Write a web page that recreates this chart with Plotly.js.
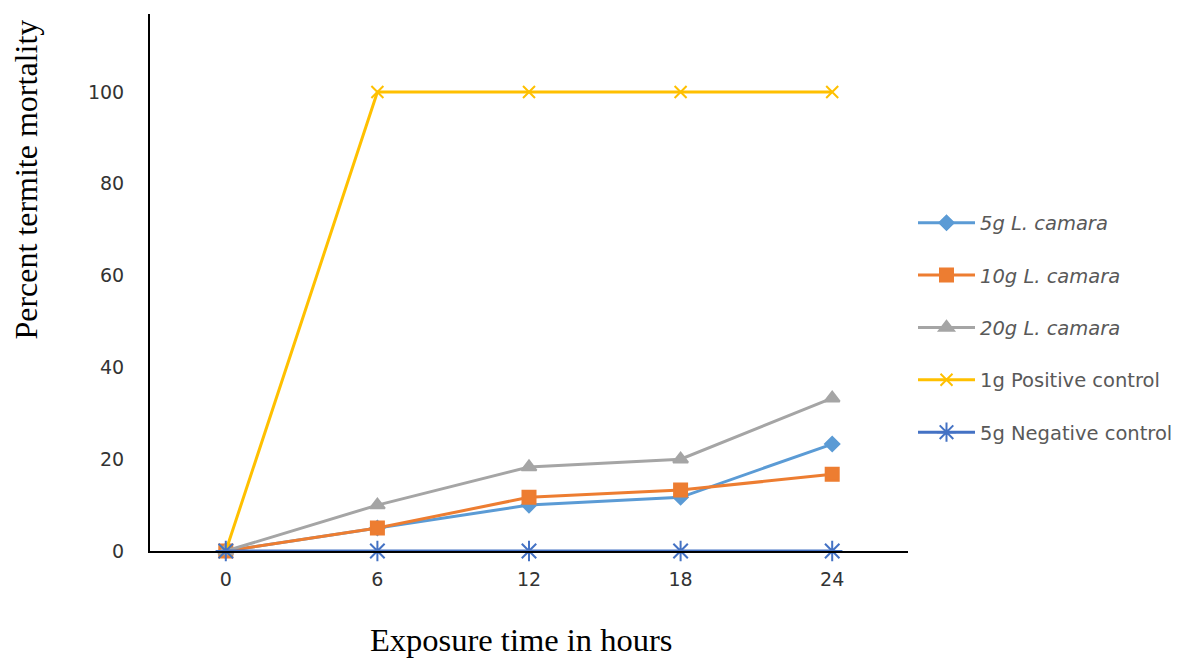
<!DOCTYPE html>
<html><head><meta charset="utf-8">
<script src="https://cdn.plot.ly/plotly-3.0.1.min.js"></script>
<style>html,body{margin:0;padding:0;background:#fff}</style>
</head><body>
<div id="chart" style="width:1180px;height:659px"></div>
<script>
const hours = ["0", "6", "12", "18", "24"];
const names = ["<i>5g L. camara</i>", "<i>10g L. camara</i>", "<i>20g L. camara</i>", "1g Positive control", "5g Negative control"];
const lc5 = [0, 5, 10, 11.7, 23.3];
const lc10 = [0, 5, 11.7, 13.3, 16.7];
const lc20 = [0, 10, 18.3, 20, 33.3];
const positive = [0, 100, 100, 100, 100];
const negative = [0, 0, 0, 0, 0];
const yTicks = [0, 20, 40, 60, 80, 100];

const series = [lc5, lc10, lc20, positive, negative];
const colors = ["#5B9BD5", "#ED7D31", "#A5A5A5", "#FFC000", "#4472C4"];
const symbols = ["diamond", "square", "triangle-up", "x-thin-open", "asterisk-open"];
const sizes = [11, 13, 13, 12, 17];

const order = [0, 1, 2, 3, 4];
const traces = order.map(i => ({
  x: hours, y: series[i], name: names[i], type: "scatter", mode: "lines+markers",
  legendrank: i + 1, legendgroup: "g" + i, cliponaxis: false,
  line: {color: colors[i], width: 3},
  marker: {symbol: symbols[i], size: sizes[i], color: colors[i], line: {color: colors[i], width: 2}}
}));

const layout = {
  width: 1180, height: 659,
  margin: {l: 150, r: 272, t: 14, b: 108, autoexpand: false},
  paper_bgcolor: "#fff", plot_bgcolor: "#fff",
  showlegend: true,
  font: {family: "DejaVu Sans, sans-serif", color: "#404040", size: 18},
  xaxis: {
    type: "category", range: [-0.5, 4.5],
    showline: true, linecolor: "#000", linewidth: 2,
    showgrid: false, zeroline: false,
    ticks: "outside", ticklen: 10, tickcolor: "rgba(0,0,0,0)",
    tickfont: {size: 19, color: "#333"}
  },
  yaxis: {
    range: [0, 117], tickvals: yTicks,
    showline: true, linecolor: "#000", linewidth: 2,
    showgrid: false, zeroline: false,
    ticks: "outside", ticklen: 20, tickcolor: "rgba(0,0,0,0)",
    tickfont: {size: 19, color: "#333"}
  },
  legend: {
    x: 1.0066, xanchor: "left", xref: "paper", y: 0.647, yanchor: "top",
    font: {size: 19.5, color: "#595959"}, tracegroupgap: 24,
    itemwidth: 57, bgcolor: "rgba(0,0,0,0)"
  },
  annotations: [
    {text: "Percent termite mortality", xref: "paper", yref: "paper", x: -0.164, y: 0.691,
     xanchor: "center", yanchor: "middle", showarrow: false, textangle: -90,
     font: {family: "Liberation Serif, Times New Roman, serif", size: 32, color: "#000"}},
    {text: "Exposure time in hours", xref: "paper", yref: "paper", x: 0.49, y: -0.166,
     xanchor: "center", yanchor: "middle", showarrow: false,
     font: {family: "Liberation Serif, Times New Roman, serif", size: 32.5, color: "#000"}}
  ]
};

Plotly.newPlot("chart", traces, layout, {displayModeBar: false, staticPlot: true});
</script>
</body></html>
